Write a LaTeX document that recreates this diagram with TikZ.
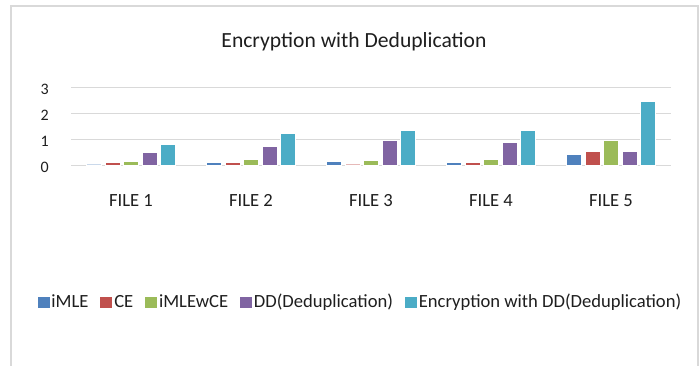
\documentclass[tikz,border=0pt]{standalone}
\usepackage{fontspec}
\setmainfont{Carlito}
\usetikzlibrary{positioning}
\definecolor{cimle}{HTML}{4F81BD}
\definecolor{cce}{HTML}{C0504D}
\definecolor{cmix}{HTML}{9BBB59}
\definecolor{cdd}{HTML}{8064A2}
\definecolor{cenc}{HTML}{4BACC6}
\definecolor{cgrid}{HTML}{D9D9D9}
\definecolor{ctext}{HTML}{1E1E1E}

\begin{document}
\begin{tikzpicture}[
    x=1pt, y=-1pt,
    gridline/.style={cgrid, line width=1.5pt},
    bar/.style={draw=white, line width=0.5pt},
    key/.style={rectangle, minimum width=12pt, minimum height=11pt, inner sep=0pt},
    legtext/.style={inner sep=0pt, text height=11.8pt, text depth=0pt, text=ctext, font=\fontsize{18.6}{20}\selectfont},
    ticktext/.style={anchor=east, inner sep=0pt, text=ctext, font=\fontsize{16}{18}\selectfont},
    cattext/.style={anchor=base, inner sep=0pt, text=ctext, font=\fontsize{18.6}{20}\selectfont}
]
\useasboundingbox (0,0) rectangle (699,365);

% Frame
\draw[cgrid, line width=2pt] (10.5,370) |- (697.5,6) -- (697.5,370);

% Title
\node[anchor=base, inner sep=0pt, text=ctext, font=\fontsize{21.6}{24}\selectfont] (title) at (354,47.3) {Encryption with Deduplication};

% Grid
\draw[gridline] (71,165.5) -- (671,165.5);
\draw[gridline] (71,139.5) -- (671,139.5);
\draw[gridline] (71,113.5) -- (671,113.5);
\draw[gridline] (71,87.5) -- (671,87.5);

% Axis
\node[ticktext] (y0) at (49,167) {0};
\node[ticktext] (y1) at (49,141) {1};
\node[ticktext] (y2) at (49,115) {2};
\node[ticktext] (y3) at (49,89) {3};

% Bars
\begin{scope}[shift={(71,165.5)}, y=26pt]
    % FILE 1
    \draw[bar, fill=cimle!30] (15.7,0) rectangle ++(15,0.08);
    \draw[bar, fill=cce] (34.1,0) rectangle ++(15,0.14);
    \draw[bar, fill=cmix] (52.5,0) rectangle ++(15,0.18);
    \draw[bar, fill=cdd] (70.9,0) rectangle ++(15,0.50);
    \draw[bar, fill=cenc] (89.3,0) rectangle ++(15,0.83);

    % FILE 2
    \draw[bar, fill=cimle] (135.7,0) rectangle ++(15,0.14);
    \draw[bar, fill=cce] (154.1,0) rectangle ++(15,0.14);
    \draw[bar, fill=cmix] (172.5,0) rectangle ++(15,0.25);
    \draw[bar, fill=cdd] (190.9,0) rectangle ++(15,0.73);
    \draw[bar, fill=cenc] (209.3,0) rectangle ++(15,1.24);

    % FILE 3
    \draw[bar, fill=cimle] (255.7,0) rectangle ++(15,0.17);
    \draw[bar, fill=cce!40] (274.1,0) rectangle ++(15,0.08);
    \draw[bar, fill=cmix] (292.5,0) rectangle ++(15,0.21);
    \draw[bar, fill=cdd] (310.9,0) rectangle ++(15,0.96);
    \draw[bar, fill=cenc] (329.3,0) rectangle ++(15,1.37);

    % FILE 4
    \draw[bar, fill=cimle] (375.7,0) rectangle ++(15,0.13);
    \draw[bar, fill=cce] (394.1,0) rectangle ++(15,0.11);
    \draw[bar, fill=cmix] (412.5,0) rectangle ++(15,0.24);
    \draw[bar, fill=cdd] (430.9,0) rectangle ++(15,0.89);
    \draw[bar, fill=cenc] (449.3,0) rectangle ++(15,1.36);

    % FILE 5
    \draw[bar, fill=cimle] (495.7,0) rectangle ++(15,0.43);
    \draw[bar, fill=cce] (514.1,0) rectangle ++(15,0.56);
    \draw[bar, fill=cmix] (532.5,0) rectangle ++(15,0.98);
    \draw[bar, fill=cdd] (550.9,0) rectangle ++(15,0.56);
    \draw[bar, fill=cenc] (569.3,0) rectangle ++(15,2.48);
\end{scope}

% Categories
\node[cattext] (file1) at (131,206) {FILE 1};
\node[cattext] (file2) at (251,206) {FILE 2};
\node[cattext] (file3) at (371,206) {FILE 3};
\node[cattext] (file4) at (491,206) {FILE 4};
\node[cattext] (file5) at (611,206) {FILE 5};

% Legend
\node[key, fill=cimle] (kimle) at (43.5,302) {};
\node[legtext, right=1.5pt of kimle] (timle) {iMLE};
\node[key, fill=cce, right=11.5pt of timle] (kce) {};
\node[legtext, right=1.5pt of kce] (tce) {CE};
\node[key, fill=cmix, right=11.5pt of tce] (kmix) {};
\node[legtext, right=1.5pt of kmix] (tmix) {iMLEwCE};
\node[key, fill=cdd, right=11.5pt of tmix] (kdd) {};
\node[legtext, right=1.5pt of kdd] (tdd) {DD(Deduplication)};
\node[key, fill=cenc, right=11.5pt of tdd] (kenc) {};
\node[legtext, right=1.5pt of kenc] (tenc) {Encryption with DD(Deduplication)};

\end{tikzpicture}
\end{document}
